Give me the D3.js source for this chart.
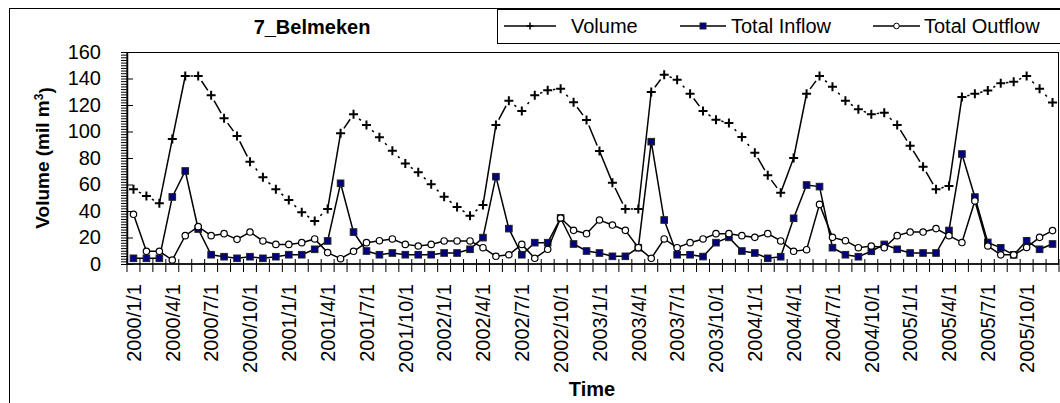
<!DOCTYPE html>
<html><head><meta charset="utf-8">
<script src="https://cdn.jsdelivr.net/npm/d3@7"></script>
<style>
html,body{margin:0;padding:0;background:#fff;}
svg{display:block;}
text{font-family:"Liberation Sans",Arial,sans-serif;fill:#000;}
</style></head>
<body>
<svg id="chart" width="1060" height="403"></svg>
<script>
// ---- data ----
const years = [2000, 2001, 2002, 2003, 2004, 2005];
const monthNums = [1,2,3,4,5,6,7,8,9,10,11,12];
const months = [];
years.forEach(y => monthNums.forEach(m => months.push(y + "/" + m + "/1")));

const tickLabels = ["2000/1/1","2000/4/1","2000/7/1","2000/10/1","2001/1/1","2001/4/1","2001/7/1","2001/10/1",
  "2002/1/1","2002/4/1","2002/7/1","2002/10/1","2003/1/1","2003/4/1","2003/7/1","2003/10/1",
  "2004/1/1","2004/4/1","2004/7/1","2004/10/1","2005/1/1","2005/4/1","2005/7/1","2005/10/1"];

const volume = [56.4,51.3,45.8,94.3,141.9,141.9,127.3,110,96.6,77.2,65.4,56.4,
  48.3,39,32.5,41.5,98.6,113,104.9,95.6,85.4,75.8,69.2,60.1,
  50.8,43,36.5,44.5,104.9,123.3,115.5,127.3,131.1,132.3,122,108.7,
  85.3,61.4,41.5,41.5,129.8,142.9,139.1,128.5,115.5,108.9,106.4,95.8,
  84,66.9,53.8,80,128.5,141.9,133.8,123.3,116.7,113,114.2,104.9,
  89.3,73.4,56.4,58.9,126,128.4,131,136.4,137.5,141.9,132.3,121.8];

const inflow = [4.3,4.3,4.3,50.6,70.2,26.4,7,5.5,4.3,5.5,4.3,5.5,
  7,7,11.1,17.4,60.9,24.1,9.8,7,8.3,7,7,7,
  8.3,8.3,11.1,19.9,65.9,26.7,7,16.1,16.1,34.7,15.1,9.8,
  8.3,5.8,5.8,12.3,92.3,33.2,7,7,5.6,16.1,20.1,9.8,
  8.3,4.3,5.5,34.5,59.6,58.4,12.3,7,5.5,9.6,14.8,11.1,
  8.3,8.3,8.3,25.3,83,50.5,16.3,12.2,6.9,17.5,11.1,15.1];

const outflow = [37.5,9.6,9.6,3,21.4,28.2,21.4,22.9,18.6,24.1,17.4,14.8,
  14.8,16.1,18.9,8.6,4,9.6,16.1,17.6,18.9,14.8,13.6,14.8,
  17.4,17.4,17.4,12.3,5.8,7,14.8,4.3,11.1,34.7,25.4,22.9,
  33.2,29.4,25.4,12.3,4.3,18.9,12.3,16.1,18.9,22.9,22.9,21.4,
  20.1,22.9,17.4,9.6,10.8,45,20.1,17.6,12.3,13.6,12.3,21.4,
  24.1,24.1,26.7,21.4,16.2,47.6,13.6,6.9,6.9,12.5,20.1,25.2];

const yTicks = [0,20,40,60,80,100,120,140,160];
const seriesNames = ["Volume", "Total Inflow", "Total Outflow"];
const chartTitle = "7_Belmeken";
const xTitle = "Time";

// ---- layout ----
const L = 127, R = 1059, T = 52, B = 264;
const svg = d3.select("#chart");

const x = d3.scaleBand().domain(months).range([L, R]).padding(0);
const xc = d => x(d) + x.bandwidth() / 2;
const y = d3.scaleLinear().domain([0, 160]).range([B, T]);

// outer chart border (clipped by the window)
svg.append("rect").attr("x", 9.5).attr("y", 8.5).attr("width", 1200).attr("height", 600)
  .attr("fill", "none").attr("stroke", "#000").attr("stroke-width", 1);

// title
svg.append("text").attr("x", 312).attr("y", 34).attr("text-anchor", "middle")
  .style("font-size", "20px").style("font-weight", "bold").text(chartTitle);

// plot area border
svg.append("rect").attr("x", L).attr("y", T + 0.5).attr("width", R - L - 0.5).attr("height", B - T - 0.5)
  .attr("fill", "none").attr("stroke", "#000").attr("stroke-width", 1);

// y axis
const yMinor = d3.range(0, 161, 2).filter(v => v % 20 !== 0);
svg.append("g").attr("transform", `translate(${L},0)`)
  .call(d3.axisLeft(y).tickValues(yMinor).tickSize(6).tickFormat(""))
  .call(g => g.select(".domain").remove())
  .call(g => g.selectAll("line").attr("stroke", "#000"));
const yAx = svg.append("g").attr("transform", `translate(${L},0)`)
  .call(d3.axisLeft(y).tickValues(yTicks).tickSize(6).tickSizeOuter(0).tickPadding(20))
  .call(g => g.select(".domain").attr("stroke", "#000").attr("stroke-width", 1.5))
  .call(g => g.selectAll(".tick line").attr("x2", 6).attr("x1", -6).attr("stroke", "#000"))
  .call(g => g.selectAll(".tick text").style("font-size", "20px").attr("font-family", null).attr("fill", "#000"));

// x axis: ticks at category boundaries
const bounds = months.map(m => x(m)).concat([R]);
svg.append("g").selectAll("line").data(bounds).join("line")
  .attr("x1", d => d).attr("x2", d => d).attr("y1", B - 5).attr("y2", B + 8)
  .attr("stroke", "#000").attr("stroke-width", 1);
svg.append("line").attr("x1", L).attr("x2", R).attr("y1", B).attr("y2", B)
  .attr("stroke", "#000").attr("stroke-width", 1.5);

const xAx = svg.append("g").attr("transform", `translate(0,${B})`)
  .call(d3.axisBottom(x).tickValues(tickLabels).tickSize(0))
  .call(g => g.select(".domain").remove());
xAx.selectAll(".tick text")
  .style("font-size", "20px").attr("font-family", null).attr("fill", "#000")
  .attr("text-anchor", "end")
  .attr("transform", "rotate(-90)")
  .attr("x", -20).attr("y", 0).attr("dy", "0.36em");

// axis titles
svg.append("text").attr("transform", "translate(48.5,158) rotate(-90)")
  .attr("text-anchor", "middle").style("font-size", "19px").style("font-weight", "bold")
  .call(t => {
    t.append("tspan").text("Volume (mil m");
    t.append("tspan").attr("dy", "-0.45em").style("font-size", "12px").text("3");
    t.append("tspan").attr("dy", "0.45em").text(")");
  });
svg.append("text").attr("x", 592).attr("y", 396).attr("text-anchor", "middle")
  .style("font-size", "20px").style("font-weight", "bold").text(xTitle);

// ---- series ----
function plusPath(cx, cy, s) { return `M${cx - s},${cy}H${cx + s}M${cx},${cy - s}V${cy + s}`; }

// Volume: segment-wise dash look
const vg = svg.append("g");
const vpts = volume.map((v, i) => [xc(months[i]), y(v)]);
for (let i = 0; i < vpts.length - 1; i++) {
  const [x0, y0] = vpts[i], [x1, y1] = vpts[i + 1];
  const len = Math.hypot(x1 - x0, y1 - y0);
  let dash = null;
  if (len < 21) { const g = len / 2 - 1.2; dash = `0,${g},2.4,${len}`; }
  else if (len < 34) { const g = 6; dash = `0,${g},${len - 2 * g},${len}`; }
  vg.append("line").attr("x1", x0).attr("y1", y0).attr("x2", x1).attr("y2", y1)
    .attr("stroke", "#000").attr("stroke-width", 1.5).attr("stroke-dasharray", dash);
}
vg.selectAll("path.m").data(volume).join("path").attr("class", "m")
  .attr("d", (v, i) => plusPath(xc(months[i]), y(v), 4.5))
  .attr("stroke", "#000").attr("stroke-width", 2).attr("fill", "none");

// Inflow
const line = d3.line().x((v, i) => xc(months[i])).y(v => y(v));
svg.append("path").attr("d", line(inflow)).attr("fill", "none").attr("stroke", "#000").attr("stroke-width", 1.5);
svg.append("g").selectAll("rect").data(inflow).join("rect")
  .attr("x", (v, i) => xc(months[i]) - 3.3).attr("y", v => y(v) - 3.3)
  .attr("width", 6.6).attr("height", 6.6)
  .attr("fill", "#000080").attr("stroke", "#222").attr("stroke-width", 1);

// Outflow
svg.append("path").attr("d", line(outflow)).attr("fill", "none").attr("stroke", "#000").attr("stroke-width", 1.5);
svg.append("g").selectAll("circle").data(outflow).join("circle")
  .attr("cx", (v, i) => xc(months[i])).attr("cy", v => y(v)).attr("r", 3.2)
  .attr("fill", "#fff").attr("stroke", "#000").attr("stroke-width", 1.2);

// ---- legend ----
const lg = svg.append("g");
lg.append("rect").attr("x", 497.5).attr("y", 9.5).attr("width", 700).attr("height", 34)
  .attr("fill", "#fff").attr("stroke", "#000").attr("stroke-width", 1);
const ly = 26;
const items = [
  {name: seriesNames[0], x0: 504, x1: 556, tx: 571, type: "plus"},
  {name: seriesNames[1], x0: 680, x1: 726, tx: 731, type: "square"},
  {name: seriesNames[2], x0: 873, x1: 920, tx: 924, type: "circle"}
];
items.forEach(it => {
  lg.append("line").attr("x1", it.x0).attr("x2", it.x1).attr("y1", ly).attr("y2", ly)
    .attr("stroke", "#000").attr("stroke-width", 1.5);
  const cx = (it.x0 + it.x1) / 2;
  if (it.type === "plus") lg.append("path").attr("d", plusPath(cx, ly, 3.5)).attr("stroke", "#000").attr("stroke-width", 1.5);
  if (it.type === "square") lg.append("rect").attr("x", cx - 3).attr("y", ly - 3).attr("width", 6).attr("height", 6)
    .attr("fill", "#000080").attr("stroke", "#222");
  if (it.type === "circle") lg.append("circle").attr("cx", cx).attr("cy", ly).attr("r", 2.8)
    .attr("fill", "#fff").attr("stroke", "#000");
  lg.append("text").attr("x", it.tx).attr("y", ly).attr("dy", "0.35em")
    .style("font-size", "20px").text(it.name);
});
</script>
</body></html>
